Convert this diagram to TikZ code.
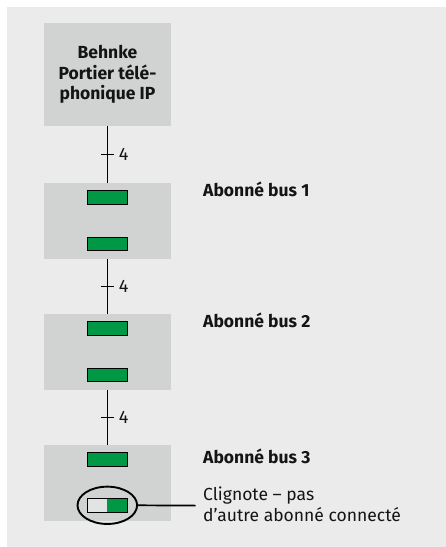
\documentclass[tikz,border=0pt]{standalone}
\usepackage{fontspec}
\setmainfont{Fira Sans}
\usetikzlibrary{shapes.geometric}
\definecolor{panel}{RGB}{235,235,235}
\definecolor{boxgray}{RGB}{209,211,210}
\definecolor{ledgreen}{RGB}{0,152,68}
\definecolor{ledoff}{RGB}{226,227,227}
\definecolor{ink}{RGB}{20,20,20}
\begin{document}
\begin{tikzpicture}
		[x=1pt,y=-1pt,
		box/.style={rectangle,fill=boxgray,minimum width=127pt,minimum height=75.7pt,inner sep=0pt},
		led/.style={rectangle,draw=black,line width=.8pt,fill=ledgreen,minimum width=40pt,minimum height=13.5pt,inner sep=0pt},
		wire/.style={draw=black,line width=1.7pt},
		num/.style={anchor=west,inner sep=0pt,xshift=4pt,text=ink,font=\fontsize{18}{20}\selectfont},
		title/.style={anchor=base west,inner sep=0pt,text=ink,font=\bfseries\fontsize{17.5}{21}\selectfont},
		note/.style={anchor=base west,inner sep=0pt,align=left,text=ink,font=\fontsize{17.5}{21.7}\selectfont}
		]
		\useasboundingbox (0,0) rectangle (446,547);
		\fill[panel] (7,7) rectangle (446,547);

		% door station and the three bus users
		\node[box,minimum height=103pt,align=center,text=ink,font=\bfseries\fontsize{17.5}{20.5}\selectfont] (door) at (107.5,74.5) {Behnke\\Portier télé-\\phonique IP};
		\node[box] (sub1) at (107.5,220.9){};
		\node[box] (sub2) at (107.5,351.9){};
		\node[box] (sub3) at (107.5,482.9){};

		\node[led] (led1a) at (107.3,197.2){};
		\node[led] (led1b) at (107.3,244){};
		\node[led] (led2a) at (107.3,328.2){};
		\node[led] (led2b) at (107.3,375){};
		\node[led] (led3a) at (107.3,459.2){};
		\node[led,fill=ledoff,path picture={\fill[ledgreen] (path picture bounding box.south) rectangle (path picture bounding box.north east);}] (led3b) at (107.3,505.3){};

		% 4-wire bus
		\draw[wire] (door) -- coordinate (t1) (sub1);
		\draw[wire] (sub1) -- coordinate (t2) (sub2);
		\draw[wire] (sub2) -- coordinate (t3) (sub3);
		\draw[wire] ([xshift=-6.5pt]t1) -- ([xshift=6.5pt]t1) node[num]{4};
		\draw[wire] ([xshift=-6.5pt]t2) -- ([xshift=6.5pt]t2) node[num]{4};
		\draw[wire] ([xshift=-6.5pt]t3) -- ([xshift=6.5pt]t3) node[num]{4};

\node[title] (name1) at (203,196.7){Abonné bus 1};
\node[title] (name2) at (203,327.3){Abonné bus 2};
\node[title] (name3) at (203,463.3){Abonné bus 3};

		% blinking led callout
		\node[ellipse,draw=black,line width=1.9pt,minimum width=59.6pt,minimum height=37.3pt,inner sep=0pt] (ring) at (led3b){};
		\coordinate (tip) at (195.7,505.6);
		\draw[line width=1.7pt] (ring.east) -- (tip);
		\node[note] (hint) at (203,521.7){Clignote – pas\\d’autre abonné connecté};
	\end{tikzpicture}
\end{document}
